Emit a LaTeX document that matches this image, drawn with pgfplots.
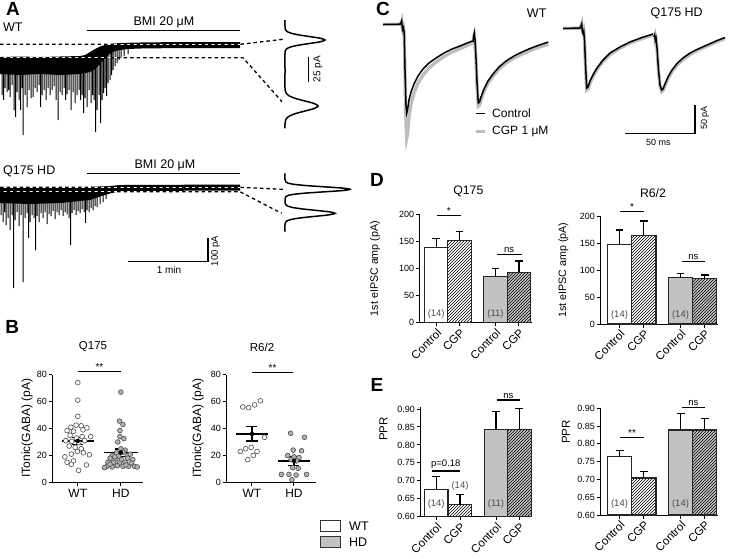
\documentclass[border=0pt]{standalone}
\usepackage{pgfplots}
\pgfplotsset{compat=1.18}
\usepackage{fontspec}
\setmainfont{Liberation Sans}
\usetikzlibrary{patterns}
\definecolor{hdgray}{gray}{0.76}
\definecolor{dotgray}{gray}{0.70}
\definecolor{edgegray}{gray}{0.30}
\definecolor{cgpgray}{gray}{0.74}
\newcommand{\fs}[1]{\fontsize{#1}{#1}\selectfont}
\pgfplotsset{
  chartax/.style={scale only axis, anchor=south west,
    axis x line=bottom, axis y line=left,
    axis line style={-, line width=1pt, black},
    tick align=outside, major tick length=3.5pt,
    tick style={line width=1pt, black},
    /pgf/number format/assume math mode=true,
    yticklabel style={font=\fs{9}, inner sep=1.5pt}},
  barax/.style={chartax, clip=true,
    xticklabel style={font=\fs{11.5}, rotate=45, anchor=north east, inner sep=1pt}},
  bst/.style={ybar, bar shift=0pt, draw=black!85, line width=1.1pt},
  eb/.style={error bars/y dir=plus, error bars/y explicit,
    error bars/error bar style={draw=black, line width=1.2pt, solid},
    error bars/error mark options={rotate=90, mark size=#1, line width=1.2pt, draw=black}},
  eb/.default=4pt,
  hatch/.style={postaction={pattern=north east lines}},
  wtdot/.style={only marks, mark=*, mark size=2.4pt, mark options={fill=white, draw=edgegray, line width=0.6pt}},
  hddot/.style={only marks, mark=*, mark size=2.4pt, mark options={fill=dotgray, draw=edgegray, line width=0.6pt}},
  sem/.style={only marks, mark=none, error bars/y dir=both, error bars/y explicit,
    error bars/error bar style={draw=black, line width=1.3pt, solid},
    error bars/error mark options={rotate=90, mark size=5.5pt, line width=1.3pt, draw=black}},
  spk/.style={draw=black, line width=1.0pt, line join=miter},
}
\begin{document}
\begin{tikzpicture}

% ---------------- B left (Q175)
\begin{axis}[chartax, clip=false, at={(52pt,-482.5pt)}, width=91pt, height=108pt,
  xmin=0.4, xmax=2.516, ymin=0, ymax=80, ytick={0,20,40,60,80},
  xtick={1,2}, xticklabels={WT,HD}, xticklabel style={font=\fs{12}}]
\addplot[wtdot] coordinates {(1.00,74)(1.00,61)(1.00,49)
 (0.84,41)(0.96,42.5)(1.08,42)(1.21,40.5)(0.75,38.5)(0.9,38)(1.12,39)
 (0.82,35)(0.97,33)(1.1,34)(1.3,34)(0.72,31)(0.86,30.5)(1.02,29.5)(1.16,31)
 (0.8,27)(0.94,26)(1.08,25)(0.7,19)(0.85,21)(0.99,23)(1.13,22)(1.27,20.5)
 (0.75,15)(0.9,16)(1.2,13)(0.85,13.5)(1.02,9)};
\addplot[hddot] coordinates {(2.0,67)(1.97,45.5)(2.05,43)(1.98,38.5)(1.98,34)(2.07,32.5)(1.93,30)
 (2.0,25)(2.1,24)(1.9,22)(2.05,22.5)(1.8,20)(1.95,19.5)(2.15,20)
 (1.75,18)(1.88,17.5)(2.02,17)(2.16,18)(2.28,17)
 (1.7,15)(1.83,15)(1.97,14.5)(2.1,15)(2.24,14.5)
 (1.68,12)(1.8,11.5)(1.92,12.5)(2.05,12)(2.18,12)(2.32,12)
 (1.75,13.5)(2.12,13)(1.62,11)(2.38,11.5)(1.86,19)(2.22,21)};
\addplot[black, line width=1.8pt] coordinates {(0.63,30.8) (1.37,30.8)};
\addplot[sem] coordinates {(1,30.8) +- (0,2.4)};
\addplot[black, line width=1.8pt] coordinates {(1.61,22.2) (2.39,22.2)};
\addplot[sem] coordinates {(2,22.2) +- (0,2.7)};
\end{axis}

% ---------------- B right (R6/2)
\begin{axis}[chartax, clip=false, at={(226pt,-482.5pt)}, width=90pt, height=108pt,
  xmin=0.381, xmax=2.524, ymin=0, ymax=80, ytick={0,20,40,60,80},
  xtick={1,2}, xticklabels={WT,HD}, xticklabel style={font=\fs{12}}]
\addplot[wtdot] coordinates {(0.78,56)(0.92,55.5)(1.06,57.5)(1.2,60.5)(1.3,33.5)
 (0.72,23)(0.85,25)(0.98,26)(1.12,23)(0.9,17)(1.03,20)};
\addplot[hddot] coordinates {(1.92,36.5)(2.25,33.5)(1.98,24)(2.18,23.5)(1.85,20)(2.0,19)
 (2.12,18.5)(1.93,17)(2.06,16)(1.97,11)(2.1,10.5)(1.7,6)(1.88,6)(2.05,5.5)(2.3,6)(1.95,2)};
\addplot[black, line width=1.8pt] coordinates {(0.62,36) (1.38,36)};
\addplot[sem] coordinates {(1,36) +- (0,5.3)};
\addplot[black, line width=1.8pt] coordinates {(1.62,16) (2.38,16)};
\addplot[sem] coordinates {(2,16) +- (0,3.2)};
\end{axis}

% ---------------- D left (Q175)
\begin{axis}[barax, at={(419.3pt,-322.7pt)}, width=112.7pt, height=108.4pt,
  xmin=419.3, xmax=532, ymin=0, ymax=200, ytick={0,50,100,150,200},
  xtick={436.2,459.5,495.5,518.9}, xticklabels={Control,CGP,Control,CGP}]
\addplot[bst, bar width=23.3pt, fill=white, eb=3.8pt] coordinates {(436.2,138.7) +- (0,16.3)};
\addplot[bst, bar width=23.3pt, fill=white, hatch, eb=3.8pt] coordinates {(459.5,152) +- (0,16.7)};
\addplot[bst, bar width=23.3pt, fill=hdgray, eb=3.8pt] coordinates {(495.5,84.7) +- (0,15.3)};
\addplot[bst, bar width=23.3pt, fill=hdgray, hatch, eb=3.8pt] coordinates {(518.9,92.7) +- (0,21.3)};
\end{axis}

% ---------------- D right (R6/2)
\begin{axis}[barax, at={(600pt,-324pt)}, width=118pt, height=108pt,
  xmin=600, xmax=718, ymin=0, ymax=200, ytick={0,50,100,150,200},
  xtick={619.5,643.8,680.5,704.7}, xticklabels={Control,CGP,Control,CGP}]
\addplot[bst, bar width=24.3pt, fill=white, eb=3.8pt] coordinates {(619.5,147.6) +- (0,26.4)};
\addplot[bst, bar width=24.3pt, fill=white, hatch, eb=3.8pt] coordinates {(643.8,164) +- (0,26.7)};
\addplot[bst, bar width=24.3pt, fill=hdgray, eb=3.8pt] coordinates {(680.5,85.8) +- (0,8)};
\addplot[bst, bar width=24.3pt, fill=hdgray, hatch, eb=3.8pt] coordinates {(704.7,84) +- (0,6.7)};
\end{axis}

% ---------------- E left (Q175)
\begin{axis}[barax, at={(420pt,-516.7pt)}, width=112pt, height=109.5pt,
  xmin=420, xmax=532, ymin=0.6, ymax=0.905, ytick={0.6,0.65,0.7,0.75,0.8,0.85,0.9},
  yticklabel style={/pgf/number format/fixed, /pgf/number format/fixed zerofill, /pgf/number format/precision=2},
  xtick={436.2,460,496,519.3}, xticklabels={Control,CGP,Control,CGP}]
\addplot[bst, bar width=23.5pt, fill=white, eb] coordinates {(436.2,0.677) +- (0,0.034)};
\addplot[bst, bar width=23.5pt, fill=white, hatch, eb] coordinates {(460,0.634) +- (0,0.028)};
\addplot[bst, bar width=23.5pt, fill=hdgray, eb] coordinates {(496,0.842) +- (0,0.051)};
\addplot[bst, bar width=23.5pt, fill=hdgray, hatch, eb] coordinates {(519.3,0.842) +- (0,0.06)};
\end{axis}

% ---------------- E right (R6/2)
\begin{axis}[barax, at={(600pt,-515pt)}, width=118pt, height=106.7pt,
  xmin=600, xmax=718, ymin=0.6, ymax=0.9, ytick={0.6,0.65,0.7,0.75,0.8,0.85,0.9},
  yticklabel style={/pgf/number format/fixed, /pgf/number format/fixed zerofill, /pgf/number format/precision=2},
  xtick={619.5,643.8,680.5,704.7}, xticklabels={Control,CGP,Control,CGP}]
\addplot[bst, bar width=24.3pt, fill=white, eb] coordinates {(619.5,0.764) +- (0,0.017)};
\addplot[bst, bar width=24.3pt, fill=white, hatch, eb] coordinates {(643.8,0.704) +- (0,0.019)};
\addplot[bst, bar width=24.3pt, fill=hdgray, eb] coordinates {(680.5,0.839) +- (0,0.047)};
\addplot[bst, bar width=24.3pt, fill=hdgray, hatch, eb] coordinates {(704.7,0.839) +- (0,0.033)};
\end{axis}

% ---------------- canvas (px coordinates, y downward)
\begin{axis}[at={(0pt,0pt)}, anchor=north west, scale only axis, width=733pt, height=558pt,
  xmin=0, xmax=733, ymin=0, ymax=558, y dir=reverse, hide axis, clip=false]

% ===== Panel A, WT trace
\addplot[spk] coordinates {
(2,70)(2,95)(2,70)(3.5,70)(3.5,100)(3.5,70)(5,70)(5,88)(5,70)(7,70)(7,92)(7,70)
(8.5,70)(8.5,90)(8.5,70)(10,70)(10,97)(10,70)(12,70)(12,85)(12,70)(14,70)(14,110)(14,70)
(15.5,70)(15.5,117)(15.5,70)(17,70)(17,92)(17,70)(19,70)(19,100)(19,70)(20.5,70)(20.5,110)(20.5,70)
(22,70)(22,88)(22,70)(23,70)(23,135)(23,70)(25,70)(25,95)(25,70)(27,70)(27,107)(27,70)
(29,70)(29,90)(29,70)(31,70)(31,98)(31,70)(33,70)(33,97)(33,70)(35,70)(35,88)(35,70)
(37,70)(37,92)(37,70)(39,70)(39,85)(39,70)(40.5,70)(40.5,107)(40.5,70)(42,70)(42,95)(42,70)
(44,70)(44,90)(44,70)(46,70)(46,100)(46,70)(48,70)(48,88)(48,70)(50,70)(50,95)(50,70)
(52,70)(52,90)(52,70)(54,70)(54,86)(54,70)(56,70)(56,100)(56,70)(58,70)(58,120)(58,70)
(60,70)(60,92)(60,70)(62,70)(62,95)(62,70)(64,70)(64,88)(64,70)(65.5,70)(65.5,100)(65.5,70)
(67,70)(67,94)(67,70)(69,70)(69,90)(69,70)(71,70)(71,110)(71,70)(73,70)(73,92)(73,70)
(75,70)(75,103)(75,70)(77,70)(77,95)(77,70)(79,70)(79,90)(79,70)(80.5,70)(80.5,100)(80.5,70)
(82,70)(82,95)(82,70)(83.5,70)(83.5,113)(83.5,70)(85,70)(85,98)(85,70)(87,70)(87,107)(87,70)
(89,68)(89,90)(89,68)(91,66)(91,103)(91,66)(92.5,65)(92.5,95)(92.5,65)(94,64)(94,100)(94,64)
(95.5,62)(95.5,132)(95.5,62)(97,60)(97,110)(97,60)(99,59)(99,95)(99,59)(100.5,58)(100.5,123)(100.5,58)
(102,57)(102,100)(102,57)(103.5,56)(103.5,93)(103.5,56)(105,54)(105,88)(105,54)(106.5,53)(106.5,96)(106.5,53)
(108,52)(108,83)(108,52)(110,51)(110,80)(110,51)(111.5,50)(111.5,75)(111.5,50)(113,49)(113,70)(113,49)
(115,48.5)(115,66)(115,48.5)(117,48)(117,63)(117,48)(119,48)(119,60)(119,48)(121,47.5)(121,58)(121,47.5)
(124,47)(124,56)(124,47)(128,47)(128,54)(128,47)};
\addplot[fill=black, draw=none] coordinates {(0,57)(20,56.5)(40,57)(60,56.5)(80,56)(85,55)(90,52)(95,49)(100,46.5)(105,45)(110,44)(120,43)(140,42.5)(180,42)(240,42)
(240,48)(180,48)(140,48.5)(128,49)(120,50)(115,51)(112,52.5)(108,55)(104,59)(100,64)(95,69)(90,72)(80,74)(60,75)(40,74)(20,75)(0,74)};
\addplot[white, line width=1.3pt] coordinates {(0,44.3)(240,44.3)};
\addplot[white, line width=1.3pt] coordinates {(0,57.7)(243,57.7)};
\addplot[black, line width=1.3pt, dash pattern=on 3.5pt off 3pt] coordinates {(0,44.3)(240,44.3)(283,39.3)};
\addplot[black, line width=1.3pt, dash pattern=on 3.5pt off 3pt] coordinates {(0,57.7)(243,57.7)(282,101.7)};
% histogram WT
\addplot[black, line width=1.5pt, smooth, tension=0.5] coordinates {(285,20)(285,27)(285.44,29.5)(286.76,31.25)(290.41,33)(297.99,34.75)(309.26,36.5)(320.3,38.25)(325,40)(320.3,41.75)(309.26,43.5)(297.99,45.25)(290.41,47)(286.76,48.75)(285.44,50.5)(285,53)(285,70)(285,88.5)(285.37,91)(286.45,93.5)(289.46,96)(295.72,98.5)(305.01,101)(314.12,103.5)(318,106)(314.12,108.5)(305.01,111)(295.72,113.5)(289.46,116)(286.45,118.5)(285.37,121)(285,123.5)(285,128.3)};
\addplot[black, line width=1.2pt] coordinates {(308.3,56.7)(308.3,81.7)};
\addplot[black, line width=1.2pt] coordinates {(86.7,30.7)(240,30.7)};

% ===== Panel A, Q175 HD trace
\addplot[spk] coordinates {
(1,198)(1,215)(1,198)(3,198)(3,222)(3,198)(4.5,198)(4.5,212)(4.5,198)(6,198)(6,225)(6,198)
(8,198)(8,218)(8,198)(10,198)(10,230)(10,198)(12,198)(12,215)(12,198)(13.5,198)(13.5,288)(13.5,198)
(15,198)(15,220)(15,198)(17,198)(17,212)(17,198)(19,198)(19,226)(19,198)(21,198)(21,215)(21,198)
(23,198)(23,282)(23,198)(25,198)(25,218)(25,198)(27,198)(27,213)(27,198)(28.5,198)(28.5,238)(28.5,198)
(30,198)(30,222)(30,198)(32,198)(32,215)(32,198)(34,198)(34,218)(34,198)(35.5,198)(35.5,250)(35.5,198)
(37,198)(37,216)(37,198)(39,198)(39,222)(39,198)(41,198)(41,213)(41,198)(43,198)(43,218)(43,198)
(45,198)(45,212)(45,198)(47,198)(47,224)(47,198)(49,198)(49,214)(49,198)(51,198)(51,216)(51,198)
(53,198)(53,211)(53,198)(55,198)(55,219)(55,198)(57,198)(57,212)(57,198)(59,198)(59,215)(59,198)
(61,198)(61,210)(61,198)(63,198)(63,216)(63,198)(65,198)(65,212)(65,198)(67,198)(67,214)(67,198)
(69,198)(69,218)(69,198)(70.5,198)(70.5,245)(70.5,198)(72,198)(72,213)(72,198)(74,198)(74,210)(74,198)
(76,198)(76,215)(76,198)(78,198)(78,211)(78,198)(80,198)(80,213)(80,198)(82,198)(82,209)(82,198)
(84,198)(84,212)(84,198)(85.5,198)(85.5,223)(85.5,198)(87,198)(87,210)(87,198)(89,198)(89,212)(89,198)
(91,197)(91,208)(91,197)(93,196)(93,210)(93,196)(95,196)(95,206)(95,196)(97,195)(97,207)(97,195)
(100,194)(100,204)(100,194)(103,193)(103,202)(103,193)(106,192)(106,199)(106,192)};
\addplot[fill=black, draw=none] coordinates {(0,187)(30,187.5)(60,187)(90,187)(100,186.5)(110,186)(120,185)(240,184.5)
(240,190.5)(120,191)(110,193.5)(100,196.5)(90,200)(60,203)(30,204)(0,203)};
\addplot[white, line width=1.3pt] coordinates {(0,187.3)(240,187.3)};
\addplot[white, line width=1.3pt] coordinates {(0,191.7)(240,191.7)};
\addplot[black, line width=1.3pt, dash pattern=on 3.5pt off 3pt] coordinates {(0,187.3)(240,187.3)(283,189.3)};
\addplot[black, line width=1.3pt, dash pattern=on 3.5pt off 3pt] coordinates {(0,191.7)(240,191.7)(281.7,213.3)};
% histogram HD
\addplot[black, line width=1.5pt, smooth, tension=0.5] coordinates {(285,173.3)(285,179.5)(285.72,181.8)(287.85,183.05)(293.79,184.3)(306.11,185.55)(324.42,186.8)(342.36,188.05)(350,189.3)(342.36,190.55)(324.42,191.8)(306.11,193.05)(293.79,194.3)(287.85,195.55)(285.72,196.8)(285,199)(285,202)(285.56,204.3)(287.2,205.8)(291.77,207.3)(301.24,208.8)(315.33,210.3)(329.13,211.8)(335,213.3)(329.13,214.8)(315.33,216.3)(301.24,217.8)(291.77,219.3)(287.2,220.8)(285.56,222.3)(285,224.5)(285,231.7)};
\addplot[black, line width=1.2pt] coordinates {(87.3,173.3)(240,173.3)};
\addplot[black, line width=1.2pt] coordinates {(128,261.7)(208,261.7)(208,238.3)};

% ===== Panel A text
\node[font=\bfseries\fs{19}] at (axis cs:13,9) {A};
\node[font=\fs{12.5}, anchor=west, inner sep=0pt] at (axis cs:3,27) {WT};
\node[font=\fs{12.5}] at (axis cs:164,22) {BMI 20 μM};
\node[font=\fs{10}, rotate=90] at (axis cs:318,69) {25 pA};
\node[font=\fs{12.5}, anchor=west, inner sep=0pt] at (axis cs:3,171.7) {Q175 HD};
\node[font=\fs{12.5}] at (axis cs:165,165) {BMI 20 μM};
\node[font=\fs{9.5}, rotate=90] at (axis cs:215.5,251) {100 pA};
\node[font=\fs{10}] at (axis cs:169,270) {1 min};

% ===== Panel C
\addplot[cgpgray, line width=3.4pt] coordinates {(383,24.5)(400,24.2)(401,23)(401.7,21)(402.2,27)(402.8,30)(403.5,28)(404.2,33)(405,75)(406,122)(406.7,138)(407.5,134)(409,117)(411,104)(414,93)(418,83)(423,75)(429,68)(436,62)(444,56.5)(452,52)(460,48.5)(467,45.5)(472.5,43)};
\addplot[cgpgray, line width=3.4pt] coordinates {(473,43)(473.7,37)(474.3,35)(475,42)(476,60)(477,85)(478.3,106)(479.5,105)(481,100)(484,91)(488,83)(493,76)(499,69)(506,63)(514,58)(522,54)(530,50.5)(538,47.5)(548.3,44)};
\addplot[black, line width=1.5pt] coordinates {(383,24.5)(400,24.2)(401,23)(401.7,21)(402.2,27)(402.8,30)(403.5,28)(404.2,33)(405,70)(406,105)(406.7,113)(407.5,110)(409,100)(411,92)(414,84)(418,76)(423,69)(429,63)(436,58)(444,53)(452,49)(460,46)(467,43)(472.5,41)};
\addplot[black, line width=1.5pt] coordinates {(473,42)(473.7,36)(474.3,33)(475,40)(476,58)(477,82)(478.3,103)(479.5,102)(481,97)(484,89)(488,81)(493,74)(499,67)(506,61)(514,56)(522,52)(530,48.5)(538,45.5)(548.3,42)};
\addplot[cgpgray, line width=3.4pt] coordinates {(563,28.5)(580,28)(581,26)(581.7,24)(582.3,31)(583,33)(583.7,31)(584.5,41)(585.5,66)(586.7,90)(588,89)(590,83)(593,76)(597,69)(603,61.5)(610,54.5)(620,48)(630,43)(642,38.5)(653,35)};
\addplot[cgpgray, line width=3.4pt] coordinates {(654,37.5)(654.7,35.5)(655.3,40.5)(656,39)(657,49)(658.5,71)(660,86)(661.7,91.5)(663,90.5)(665,85.5)(668,78.5)(672,71.5)(677,65)(683,59.5)(690,54.5)(698,50)(707,46)(716,42)(725,38.5)};
\addplot[black, line width=1.5pt] coordinates {(563,28.5)(580,28)(581,26)(581.7,24)(582.3,31)(583,33)(583.7,31)(584.5,40)(585.5,65)(586.7,88)(588,87)(590,81)(593,75)(597,68)(603,60)(610,53)(620,47)(630,42)(642,37.5)(653,34)};
\addplot[black, line width=1.5pt] coordinates {(654,37)(654.7,35)(655.3,40)(656,38)(657,48)(658.5,70)(660,85)(661.7,90)(663,89)(665,84)(668,77)(672,70)(677,63.5)(683,58)(690,53)(698,49)(707,45)(716,41)(725,37.5)};
% legend C
\addplot[black, line width=1.5pt] coordinates {(476,113.3)(485,113.3)};
\addplot[cgpgray, line width=3.4pt] coordinates {(476,131.7)(485,131.7)};
\node[font=\fs{12}, anchor=west, inner sep=0pt] at (axis cs:492,113.3) {Control};
\node[font=\fs{12}, anchor=west, inner sep=0pt] at (axis cs:492,131.7) {CGP 1 μM};
% scale bars C
\addplot[black, line width=1.2pt] coordinates {(625,133.3)(695,133.3)(695,105)};
\node[font=\fs{9}] at (axis cs:658.3,142) {50 ms};
\node[font=\fs{9}, rotate=90] at (axis cs:705,118) {50 pA};
\node[font=\bfseries\fs{19}] at (axis cs:383,9) {C};
\node[font=\fs{12.5}] at (axis cs:536.7,13.3) {WT};
\node[font=\fs{12.5}] at (axis cs:676.7,13.3) {Q175 HD};

% ===== Panel B annotations
\node[font=\bfseries\fs{19}] at (axis cs:12.3,327) {B};
\node[font=\fs{11.5}] at (axis cs:93,347) {Q175};
\node[font=\fs{11.5}] at (axis cs:262,347) {R6/2};
\node[font=\fs{12}, rotate=90] at (axis cs:27,428) {ITonic(GABA) (pA)};
\node[font=\fs{12}, rotate=90] at (axis cs:198,428) {ITonic(GABA) (pA)};
\addplot[black, line width=1.2pt] coordinates {(78,371.7)(121,371.7)};
\node[font=\fs{10}, anchor=south, inner sep=0pt] at (axis cs:99.5,371) {**};
\addplot[black, line width=1.2pt] coordinates {(252,372.7)(293,372.7)};
\node[font=\fs{10}, anchor=south, inner sep=0pt] at (axis cs:272.5,372) {**};
% legend WT / HD
\draw[fill=white, draw=black!80, line width=1.2pt] (axis cs:320.7,520.7) rectangle (axis cs:340.7,531.7);
\draw[fill=hdgray, draw=black!80, line width=1.2pt] (axis cs:320.7,536.7) rectangle (axis cs:340.7,547.7);
\node[font=\fs{12.5}, anchor=west, inner sep=0pt] at (axis cs:349,526.2) {WT};
\node[font=\fs{12.5}, anchor=west, inner sep=0pt] at (axis cs:349,542.2) {HD};

% ===== Panel D annotations
\node[font=\bfseries\fs{19}] at (axis cs:377,180) {D};
\node[font=\fs{12.3}] at (axis cs:468.3,191.7) {Q175};
\node[font=\fs{12.3}] at (axis cs:653,192.7) {R6/2};
\node[font=\fs{10.7}, rotate=90] at (axis cs:375,268.5) {1st eIPSC amp (pA)};
\node[font=\fs{10.7}, rotate=90] at (axis cs:563.3,270) {1st eIPSC amp (pA)};
\addplot[black, line width=1.2pt] coordinates {(437,215.7)(460.5,215.7)};
\node[font=\fs{10}, anchor=south, inner sep=0pt] at (axis cs:448.7,215) {*};
\addplot[black, line width=1.2pt] coordinates {(496.7,254.3)(521.7,254.3)};
\node[font=\fs{9.5}, anchor=south, inner sep=1pt] at (axis cs:509.2,253.5) {ns};
\addplot[black, line width=1.2pt] coordinates {(620,211.7)(644,211.7)};
\node[font=\fs{10}, anchor=south, inner sep=0pt] at (axis cs:632,211) {*};
\addplot[black, line width=1.2pt] coordinates {(681.7,261.7)(705,261.7)};
\node[font=\fs{9.5}, anchor=south, inner sep=1pt] at (axis cs:693.3,261) {ns};
\node[font=\fs{9.5}, text=black!70] at (axis cs:436.2,314) {(14)};
\node[font=\fs{9.5}, text=black!70] at (axis cs:495.5,314) {(11)};
\node[font=\fs{9.5}, text=black!70] at (axis cs:619.5,315) {(14)};
\node[font=\fs{9.5}, text=black!70] at (axis cs:680.5,315) {(14)};

% ===== Panel E annotations
\node[font=\bfseries\fs{19}] at (axis cs:377,385) {E};
\node[font=\fs{11.5}, rotate=90] at (axis cs:383.3,429) {PPR};
\node[font=\fs{11.5}, rotate=90] at (axis cs:566,432) {PPR};
\addplot[black, line width=1.2pt] coordinates {(431.7,471)(460,471)};
\node[font=\fs{9.5}, anchor=south, inner sep=1.5pt] at (axis cs:445.8,470) {p=0.18};
\addplot[black, line width=1.2pt] coordinates {(496.7,400)(520,400)};
\node[font=\fs{9.5}, anchor=south, inner sep=1pt] at (axis cs:508.3,399.3) {ns};
\addplot[black, line width=1.2pt] coordinates {(620,437.3)(644,437.3)};
\node[font=\fs{10}, anchor=south, inner sep=0pt] at (axis cs:632,436.5) {**};
\addplot[black, line width=1.2pt] coordinates {(681.7,407.3)(705,407.3)};
\node[font=\fs{9.5}, anchor=south, inner sep=1pt] at (axis cs:693.3,406.6) {ns};
\node[font=\fs{9.5}, text=black!70] at (axis cs:436.2,504.5) {(14)};
\node[font=\fs{9.5}, text=black!70] at (axis cs:460,486) {(14)};
\node[font=\fs{9.5}, text=black!70] at (axis cs:496,504.5) {(11)};
\node[font=\fs{9.5}, text=black!70] at (axis cs:619.5,504) {(14)};
\node[font=\fs{9.5}, text=black!70] at (axis cs:680.5,504) {(14)};
\end{axis}
\pgfresetboundingbox
\useasboundingbox (0pt,0pt) rectangle (733pt,-558pt);
\end{tikzpicture}
\end{document}
